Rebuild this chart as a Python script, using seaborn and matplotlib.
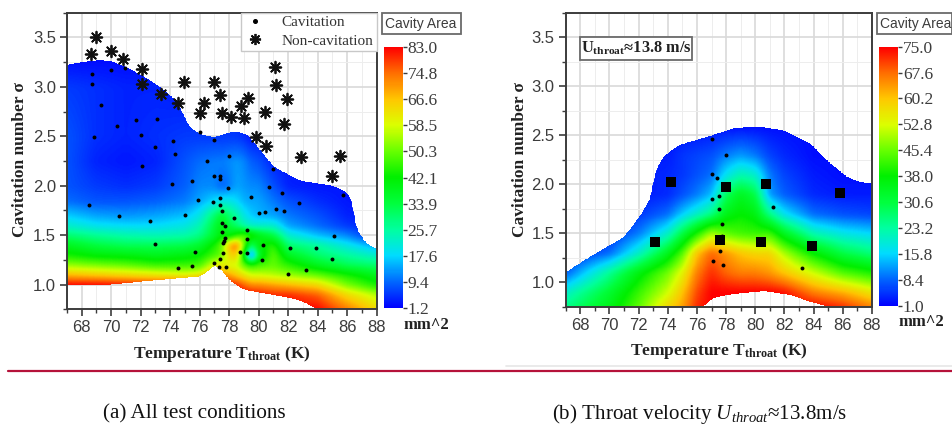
import numpy as np
import pandas as pd
import matplotlib
matplotlib.use("Agg")
import matplotlib.pyplot as plt
import seaborn as sns
from matplotlib.colors import LinearSegmentedColormap
from matplotlib.lines import Line2D
from matplotlib.patches import Polygon, Rectangle
from matplotlib.ticker import MultipleLocator

sns.set_style("white")
plt.rcParams["font.family"] = ["Liberation Serif", "DejaVu Sans"]
plt.rcParams["mathtext.fontset"] = "custom"
plt.rcParams["mathtext.rm"] = "Liberation Serif:bold"
plt.rcParams["mathtext.it"] = "Liberation Serif:italic"
plt.rcParams["mathtext.bf"] = "Liberation Serif:bold"

W, H = 952, 425
DARK = "#3c3c3c"

# left panel, cavity area
temp_a = [67, 69, 71, 73, 75, 76, 77, 77.5, 78, 78.5, 79, 79.5, 80, 81, 82, 84, 86, 88]
sigma_a = [0.75, 0.9, 1.0, 1.1, 1.2, 1.3, 1.4, 1.5, 1.6, 1.7, 1.85, 2.0, 2.25, 2.5, 3.0, 3.3]
area_a = [
    [83, 83, 83, 83, 83, 83, 83, 83, 83, 83, 83, 83, 83, 83, 83, 83, 74, 64],
    [83, 83, 83, 83, 83, 83, 83, 83, 83, 83, 83, 83, 82, 80, 80, 76, 64, 56],
    [83, 83, 82, 80, 80, 80, 83, 83, 83, 80, 76, 72, 72, 70, 68, 64, 52, 44],
    [68, 66, 64, 62, 60, 62, 70, 72, 70, 66, 62, 58, 58, 56, 54, 50, 44, 38],
    [54, 52, 50, 47, 47, 48, 60, 62, 58, 58, 50, 46, 48, 50, 46, 38, 32, 30],
    [44, 41, 40, 38, 40, 42, 48, 50, 64, 66, 42, 2, 36, 50, 38, 30, 26, 22],
    [38, 34, 32, 32, 33, 36, 44, 50, 68, 76, 52, 28, 40, 46, 30, 26, 20, 14],
    [30, 27, 25, 24, 25, 28, 36, 42, 40, 46, 50, 46, 40, 34, 22, 16, 12, 4],
    [22, 19, 18, 18, 20, 24, 34, 40, 34, 30, 25, 22, 22, 22, 14, 10, 6, 3],
    [17, 14, 13, 14, 16, 20, 30, 36, 30, 26, 20, 17, 15, 14, 11, 8, 4, 3],
    [10, 8, 8, 9, 11, 14, 18, 20, 20, 18, 15, 14, 14, 11, 8, 5, 3, 3],
    [8, 6, 5, 6, 9, 12, 12, 9, 11, 14, 13, 12, 12, 8, 4, 3, 3, 3],
    [8, 4, 3, 4, 8, 10, 11, 11, 12, 13, 12, 9, 8, 4, 3, 3, 3, 3],
    [8, 5, 4, 5, 6, 6, 6, 6, 6, 6, 5, 3, 3, 3, 3, 3, 3, 3],
    [6, 5, 4, 4, 3, 3, 3, 3, 3, 3, 3, 3, 3, 3, 3, 3, 3, 3],
    [2, 2, 2, 2, 2, 2, 2, 2, 2, 2, 2, 2, 2, 2, 2, 2, 2, 2],
]
top_t_a = [67, 68, 69.2, 70, 71, 72, 73, 74.4, 75.3, 76, 77, 78.3, 79.2, 80.3, 81, 82.8, 85, 86, 86.4, 86.5, 86.9, 87.3, 88]
top_s_a = [3.22, 3.25, 3.27, 3.26, 3.2, 3.12, 3.03, 2.86, 2.59, 2.52, 2.49, 2.55, 2.52, 2.32, 2.19, 2.05, 2.0, 1.93, 1.82, 1.58, 1.5, 1.41, 1.36]
low_t_a = [67, 70, 72, 75, 76, 76.5, 77, 77.5, 78, 79, 80, 82, 83, 84, 88]
low_s_a = [1.0, 1.0, 1.03, 1.07, 1.08, 1.13, 1.2, 1.15, 1.05, 0.95, 0.92, 0.87, 0.83, 0.75, 0.75]

cav_t_a = [68.7, 68.7, 69.3, 68.8, 70, 70.9, 70.4, 71.7, 72, 73.1, 73, 72.1, 74.2, 74.3, 74.1, 75.5, 76, 77, 76.5, 78,
           77, 77.4, 77.4, 77.9, 68.5, 70.5, 72.6, 73, 75, 75.9, 76.9, 77.4, 77.4, 77.5, 78.3, 77.5, 77.7, 77.5, 77.7,
           77.65, 77.6, 77.6, 77.4, 77, 77.3, 77.8, 75.7, 75.5, 74.5, 78.7, 79.2, 79.2, 79.2, 80.3, 80.2, 82, 83.2, 82.1,
           83.9, 85.1, 85, 85.7, 82.7, 81.6, 80.7, 79.5, 80, 80.4, 81.2, 81.7, 81]
cav_s_a = [3.13, 3.03, 2.82, 2.49, 3.17, 3.19, 2.6, 2.66, 2.51, 2.67, 2.39, 2.2, 2.45, 2.32, 2.02, 2.05, 2.54, 2.46, 2.25, 2.3,
           2.1, 2.1, 2.07, 1.98, 1.8, 1.69, 1.64, 1.41, 1.7, 1.86, 1.84, 1.88, 1.8, 1.74, 1.67, 1.62, 1.59, 1.53, 1.47,
           1.44, 1.42, 1.32, 1.26, 1.22, 1.18, 1.18, 1.33, 1.19, 1.17, 1.33, 1.32, 1.46, 1.55, 1.4, 1.25, 1.11, 1.145, 1.37,
           1.37, 1.49, 1.26, 1.91, 1.83, 1.93, 1.99, 1.89, 1.72, 1.73, 1.76, 1.74, 2.17]
non_t_a = [68.6, 69, 70, 70.8, 72.1, 72.1, 73.4, 74.5, 74.9, 77, 77.4, 76.3, 76, 77.5, 78.1, 78.8, 79.3, 79, 80.4, 81.1, 81.2, 81.9,
           81.7, 79.8, 80.5, 82.9, 85.5, 85]
non_s_a = [3.33, 3.5, 3.36, 3.28, 3.18, 3.03, 2.93, 2.84, 3.05, 3.05, 2.92, 2.84, 2.74, 2.74, 2.69, 2.81, 2.89, 2.68, 2.75, 3.2, 3.02, 2.88,
           2.62, 2.49, 2.4, 2.29, 2.3, 2.1]

# right panel
temp_b = [67, 70, 72, 74, 75, 76, 77, 78, 79, 80, 81, 82, 84, 86, 88]
sigma_b = [0.75, 0.9, 1.1, 1.3, 1.5, 1.7, 1.9, 2.1, 2.3, 2.6]
area_b = [
    [25, 35, 45, 58, 63, 72, 75, 75, 75, 75, 75, 75, 75, 72, 66],
    [20, 32, 42, 52, 60, 70, 75, 75, 75, 75, 75, 74, 66, 62, 56],
    [8, 24, 36, 46, 54, 66, 72, 68, 66, 66, 64, 60, 52, 44, 40],
    [3, 9, 20, 34, 44, 60, 68, 64, 60, 58, 58, 50, 38, 30, 26],
    [3, 4, 10, 20, 30, 40, 50, 45, 43, 42, 43, 34, 22, 18, 16],
    [3, 3, 5, 9, 15, 20, 25, 35, 38, 36, 25, 17, 9, 7, 6],
    [3, 3, 3, 4, 7, 10, 14, 28, 34, 30, 12, 8, 4, 3, 3],
    [3, 3, 3, 4, 5, 7, 9, 17, 22, 20, 10, 6, 3, 2, 2],
    [3, 3, 3, 3, 5, 6, 7, 10, 12, 10, 6, 4, 2, 2, 2],
    [2, 2, 2, 2, 2, 2, 2, 2, 2, 2, 2, 2, 2, 2, 2],
]
top_t_b = [67, 68.7, 71, 72.1, 72.9, 73.1, 73.7, 74.8, 77.1, 78.5, 80.1, 81.9, 83.8, 84.9, 86.3, 87.2, 88]
top_s_b = [1.1, 1.26, 1.46, 1.67, 1.87, 2.11, 2.28, 2.4, 2.5, 2.57, 2.59, 2.55, 2.41, 2.24, 2.07, 2.02, 2.01]
low_t_b = [67, 76.4, 77.1, 78.5, 80.6, 82.4, 83.8, 85, 88]
low_s_b = [0.75, 0.75, 0.84, 0.88, 0.91, 0.87, 0.8, 0.75, 0.75]

cav_t_b = [77, 78, 77.05, 77.4, 77.5, 77, 77.5, 81.2, 77.7, 77.7, 77.6, 77.1, 77.8, 83.2]
cav_s_b = [2.46, 2.3, 2.1, 2.06, 1.88, 1.85, 1.75, 1.77, 1.59, 1.47, 1.32, 1.22, 1.18, 1.15]
sq_t_b = [74.2, 78, 80.7, 85.8, 73.1, 77.6, 80.4, 83.9]
sq_s_b = [2.02, 1.97, 2.0, 1.91, 1.41, 1.43, 1.41, 1.37]

ticks_a = [83.0, 74.8, 66.6, 58.5, 50.3, 42.1, 33.9, 25.7, 17.6, 9.4, 1.2]
ticks_b = [75.0, 67.6, 60.2, 52.8, 45.4, 38.0, 30.6, 23.2, 15.8, 8.4, 1.0]

rainbow = LinearSegmentedColormap.from_list("origin_rainbow", [
    (0, 0, 1), (0, 0.4, 1), (0, 0.86, 1), (0, 1, 0.63), (0, 1, 0.24), (0, 0.94, 0),
    (0.4, 1, 0), (0.86, 1, 0), (1, 0.78, 0), (1, 0.43, 0), (1, 0, 0)], N=256)

fig = plt.figure(figsize=(W / 100, H / 100), dpi=100)
fig.patch.set_facecolor("white")


def px_axes(x0, y0, x1, y1):
    return fig.add_axes([x0 / W, 1 - y1 / H, (x1 - x0) / W, (y1 - y0) / H])


def px_text(x, y, s, **kw):
    kw.setdefault("ha", "center")
    kw.setdefault("va", "center")
    return fig.text(x / W, 1 - y / H, s, **kw)


def px_box(x0, y0, x1, y1):
    fig.add_artist(Rectangle((x0 / W, 1 - y1 / H), (x1 - x0) / W, (y1 - y0) / H, transform=fig.transFigure,
                             fc="white", ec="#6a6a6a", lw=1.3, clip_on=False))


def soften(values, width, axis=0):
    # gaussian blur for drawing only, so the read-off nodes do not show as facets
    n = int(3 * width)
    kernel = np.exp(-0.5 * (np.arange(-n, n + 1) / width) ** 2)
    kernel /= kernel.sum()
    padded = np.concatenate([np.repeat(np.take(values, [0], axis), n, axis), values,
                             np.repeat(np.take(values, [-1], axis), n, axis)], axis)
    return np.apply_along_axis(lambda v: np.convolve(v, kernel, mode="valid"), axis, padded)


def draw_panel(box, cbox, temps, sigmas, area, top_t, top_s, low_t, low_s, ticks):
    ax = px_axes(*box)
    ax.set_xlim(67, 88)
    ax.set_ylim(0.75, 3.75)
    ax.set_axisbelow(True)
    ax.xaxis.set_major_locator(MultipleLocator(2))
    ax.xaxis.set_minor_locator(MultipleLocator(1))
    ax.yaxis.set_major_locator(MultipleLocator(0.5))
    ax.yaxis.set_minor_locator(MultipleLocator(0.25))
    ax.grid(which="major", color="#d9d9d9", lw=1.2)
    ax.grid(which="minor", color="#ededed", lw=0.7)
    ax.tick_params(which="major", direction="out", length=5, width=1.2, color=DARK, left=True, bottom=True,
                   labelsize=12, labelcolor=DARK, pad=3)
    ax.tick_params(which="minor", direction="out", length=3, width=1, color=DARK, left=True, bottom=True)
    for lab in ax.get_xticklabels() + ax.get_yticklabels():
        lab.set_family("Liberation Sans")
    for sp in ax.spines.values():
        sp.set_color(DARK)
        sp.set_linewidth(1.4)

    tt = np.linspace(67, 88, 421)
    ss = np.arange(sigmas[0], sigmas[-1] + 0.001, 0.01)
    field = np.array([np.interp(tt, temps, row) for row in area])
    field = np.array([np.interp(ss, sigmas, col) for col in field.T]).T
    field = soften(soften(field, 4, axis=1), 2.5, axis=0)
    mesh = ax.pcolormesh(tt, ss, field, shading="gouraud", cmap=rainbow,
                         vmin=ticks[-1], vmax=ticks[0], zorder=1)
    upper = soften(np.interp(tt, top_t, top_s), 3)
    lower = soften(np.interp(tt, low_t, low_s), 3)
    outline = np.column_stack([np.r_[tt, tt[::-1]], np.r_[upper, lower[::-1]]])
    mesh.set_clip_path(Polygon(outline, closed=True, transform=ax.transData))

    cax = px_axes(*cbox)
    cb = fig.colorbar(mesh, cax=cax, ticks=ticks)
    cb.outline.set_visible(False)
    cb.ax.set_yticklabels([f"{t:.1f}" for t in ticks])
    cb.ax.tick_params(length=3, width=1, color=DARK, labelsize=12.5, labelcolor=DARK, pad=0.5)
    return ax


# (a) all test conditions
ax_a = draw_panel((67, 12.7, 376.7, 309.3), (383.7, 46.7, 402.7, 308.3), temp_a, sigma_a, area_a,
                  top_t_a, top_s_a, low_t_a, low_s_a, ticks_a)
df_cav_a = pd.DataFrame({"T": cav_t_a, "sigma": cav_s_a})
df_non_a = pd.DataFrame({"T": non_t_a, "sigma": non_s_a})
sns.scatterplot(data=df_cav_a, x="T", y="sigma", ax=ax_a, color="black", s=8, linewidth=0, zorder=3, legend=False)
sns.scatterplot(data=df_non_a, x="T", y="sigma", ax=ax_a, color="#111111", marker=(8, 2, 0), s=70, linewidth=1.3,
                zorder=3, legend=False)
ax_a.set_xlabel("")
ax_a.set_ylabel("")
handles = [Line2D([], [], ls="", marker="o", color="black", ms=2.6),
           Line2D([], [], ls="", marker=(8, 2, 0), color="#111111", ms=8, mew=1.3)]
leg = ax_a.legend(handles, ["Cavitation", "Non-cavitation"], loc="upper right", bbox_to_anchor=(1, 1),
                  borderaxespad=0, fontsize=11, labelcolor="#333333", frameon=True, fancybox=False, framealpha=1,
                  edgecolor="#c8c8c8", handletextpad=1.0, labelspacing=0.3, borderpad=0.2, handlelength=1.5)
leg.set_zorder(5)

# (b) throat velocity
ax_b = draw_panel((565.7, 12.7, 872, 306.7), (879, 46.7, 898, 305.7), temp_b, sigma_b, area_b,
                  top_t_b, top_s_b, low_t_b, low_s_b, ticks_b)
df_cav_b = pd.DataFrame({"T": cav_t_b, "sigma": cav_s_b})
df_sq_b = pd.DataFrame({"T": sq_t_b, "sigma": sq_s_b})
sns.scatterplot(data=df_cav_b, x="T", y="sigma", ax=ax_b, color="black", s=8, linewidth=0, zorder=3, legend=False)
sns.scatterplot(data=df_sq_b, x="T", y="sigma", ax=ax_b, color="black", marker="s", s=44, linewidth=0, zorder=3,
                legend=False)
ax_b.set_xlabel("")
ax_b.set_ylabel("")

# text boxes and labels
px_box(381.7, 12.7, 460.7, 34)
px_text(421, 24, "Cavity Area", fontsize=10, family="Liberation Sans", color=DARK, zorder=10)
px_box(877, 13, 952, 34)
px_text(915.5, 24, "Cavity Area", fontsize=10, family="Liberation Sans", color=DARK, zorder=10)
px_box(580, 37, 692, 60)
px_text(636, 48, r"U$_{\mathrm{throat}}$≈13.8 m/s", fontsize=11.8, fontweight="bold", color="#222222", zorder=10)

px_text(426.5, 325, "mm^2", fontsize=12, fontweight="bold", color="#222222")
px_text(921.5, 322, "mm^2", fontsize=12, fontweight="bold", color="#222222")
px_text(222, 354, r"Temperature T$_{\mathrm{throat}}$ (K)", fontsize=12.5, fontweight="bold", color="#222222")
px_text(718.5, 351, r"Temperature T$_{\mathrm{throat}}$ (K)", fontsize=12.5, fontweight="bold", color="#222222")
px_text(20, 160, "Cavitation number σ", fontsize=12.5, fontweight="bold", color="#222222", rotation=90)
px_text(520, 160, "Cavitation number σ", fontsize=12.5, fontweight="bold", color="#222222", rotation=90)

px_text(194, 413.5, "(a) All test conditions", fontsize=15.2, color="#111111")
px_text(699.5, 413.5, r"(b) Throat velocity $U_{throat}$≈13.8m/s", fontsize=15.1, color="#111111")

# rules under the panels
fig.add_artist(Line2D([506 / W, 1], [1 - 366 / H] * 2, color="#e6e6e6", lw=1.2, transform=fig.transFigure))
fig.add_artist(Line2D([8 / W, 1], [1 - 371 / H] * 2, color="#b5123a", lw=1.6, transform=fig.transFigure))

fig.savefig("out.png", dpi=100)
